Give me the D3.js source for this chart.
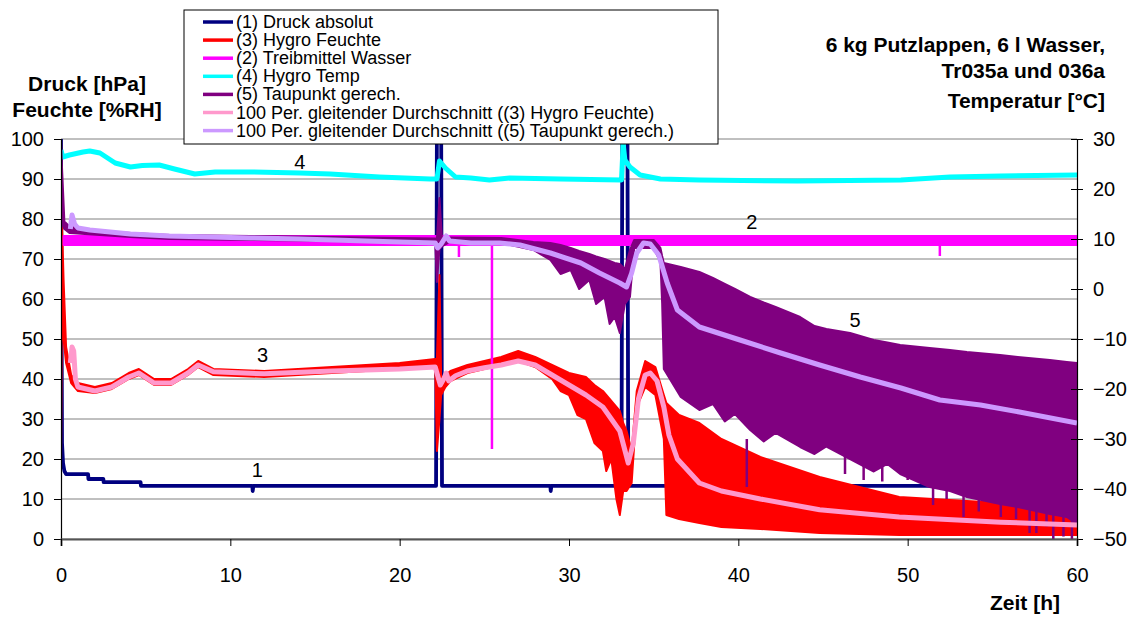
<!DOCTYPE html>
<html>
<head>
<meta charset="utf-8">
<script src="https://cdn.jsdelivr.net/npm/d3@7"></script>
<style>
body{margin:0;background:#fff;}
text{font-family:"Liberation Sans",Arial,sans-serif;fill:#000;}
</style>
</head>
<body>
<div id="chart"></div>
<script>

// (1) Druck absolut [hPa], left axis
var druckT = [0, 0.03, 0.06, 0.12, 0.2, 0.3, 1.6, 1.62, 2.5, 2.52, 4.7, 4.72, 11.3, 11.32, 11.36, 22.15, 22.2, 22.45, 22.5, 28.9, 28.92, 28.96, 33.1, 33.15, 33.45, 33.5, 60]
var druckV = [100, 60, 24, 19, 17, 16.2, 16.2, 15, 15, 14.2, 14.2, 13.3, 13.3, 12, 13.3, 13.3, 105, 105, 13.3, 13.3, 12, 13.3, 13.3, 105, 105, 13.3, 13.3]

// (3) Hygro Feuchte [%RH], left axis - upper / lower edge of the noisy trace
var feuchteT  = [0, 0.05, 0.15, 0.3, 0.6, 1, 2, 3, 4, 4.6, 5.5, 6.5, 7.5, 8.1, 9, 12, 16, 20, 22.1, 22.2, 22.35, 22.45, 22.7, 23, 24, 25, 26, 27, 28, 29, 29.5, 30, 30.5, 31, 31.5, 32, 32.2, 32.5, 32.8, 33, 33.2, 33.4, 33.7, 34, 34.5, 35.1, 35.6, 35.75, 36.5, 37.7, 39, 41.3, 44.8, 49.5, 55.5, 60]
var feuchteHi = [17, 80, 65, 48, 41, 39, 38, 39, 41.5, 42.5, 40, 40, 42.5, 44.5, 42.5, 42, 43, 44, 45, 45, 66, 40, 41, 42, 43.5, 44.5, 45.5, 47, 45.5, 43.5, 42.5, 41.5, 41, 40.5, 38.5, 37, 36, 34.5, 33, 32, 29, 27, 22, 37, 44.5, 43, 36, 34, 31, 29, 25, 20.5, 15.5, 10.5, 9, 8]
var feuchteLo = [17, 60, 50, 44, 39, 37, 36.5, 37.5, 40, 41, 38.5, 38.5, 41, 43, 41, 40.5, 41.5, 42.5, 43, 22, 30, 36, 38, 39.5, 41.5, 42.5, 43.5, 44.5, 43, 40, 37, 36, 31, 30, 24, 22, 17, 20, 10, 6, 12, 12, 14, 33, 38, 36, 25, 6, 5, 4, 3, 2.5, 1.5, 1, 1, 1]

// (2) Treibmittel Wasser [°C], right axis
var wasserT  = [0.15, 60]
var wasserHi = [10.6, 10.6]
var wasserLo = [8.8, 8.8]
var wasserSpikeT = [23.5, 25.45, 51.9]
var wasserSpikeV = [6.4, -32, 6.6]

// (4) Hygro Temp [°C], right axis
var tempT = [0, 0.1, 0.5, 1.3, 1.7, 2.3, 3.2, 4.1, 4.8, 5.8, 6.7, 7.9, 9.1, 11.2, 14.1, 15.9, 18.8, 21.8, 22.2, 22.35, 22.7, 23.3, 24.2, 25.3, 26.5, 29.5, 33.1, 33.2, 33.3, 33.6, 34.2, 35.4, 37.7, 43.5, 49.6, 52.5, 55.5, 60]
var tempV = [27.8, 26.4, 26.8, 27.4, 27.6, 27.2, 25.2, 24.4, 24.7, 24.8, 24, 23, 23.4, 23.4, 23.2, 23, 22.4, 22, 22, 25.6, 24.2, 22.4, 22.2, 21.8, 22.2, 22, 21.8, 29, 25.8, 24.4, 22.8, 22, 21.8, 21.6, 21.8, 22.4, 22.6, 22.8]

// (5) Taupunkt gerech. [°C], right axis - upper / lower edge
var taupunktT  = [0, 0.05, 0.2, 0.5, 2.3, 4.1, 6.4, 11.2, 14, 20, 22.1, 22.2, 22.35, 22.5, 23, 26, 27.9, 28.9, 29.5, 30.1, 30.6, 31.2, 31.6, 32.1, 32.4, 32.7, 33, 33.3, 33.6, 33.85, 35, 35.4, 35.5, 35.6, 36.6, 37.7, 38.5, 39.2, 39.8, 40.7, 41.5, 42.2, 43.65, 44.5, 45.2, 46.6, 48, 48.8, 49.56, 51.3, 52.5, 53.5, 55.46, 56.5, 58.4, 59.4, 60]
var taupunktHi = [30, 25, 13.5, 12.5, 11.6, 11.2, 10.8, 10.6, 10.5, 10.2, 10.1, 10, 18.2, 10, 10.3, 10.2, 9.4, 9.2, 8.8, 8.2, 7.6, 7, 6.5, 6, 5.6, 5.2, 5, 4, 7.8, 9.8, 9.8, 8.2, 6.6, 5.2, 4.4, 3.4, 2.2, 1, 0, -1.6, -2.7, -3.6, -5.6, -7.4, -8, -8.8, -10.2, -10.7, -11.2, -11.8, -12.2, -12.6, -13.2, -13.6, -14.2, -14.6, -14.8]
var taupunktLo = [14, 13, 12, 11.2, 10.8, 10.4, 10, 9.8, 9.7, 9.4, 9.3, 1.4, 8, 8.5, 9.5, 9.2, 7.8, 5.8, 3, 3.8, 0, 1.8, -3, -1.6, -7, -5.6, -8.8, -3, -1.6, 8.2, 8.2, 5.4, -2.8, -16, -21.6, -24.2, -23, -26.5, -25, -28.2, -30.5, -28.8, -31.6, -33, -31.5, -34, -36.5, -35, -37, -39.6, -40.4, -41.6, -43, -43.6, -45, -45.6, -47]
var taupunktSpikeT = [40.5, 46.3, 47.4, 48.5, 50, 51.5, 52.3, 53.3, 54.2, 55.5, 56.4, 57.2, 57.6, 58.2, 58.6, 59.2, 59.7]
var taupunktSpikeV = [-39.6, -37, -38.2, -38.5, -38.2, -43.2, -42, -45.6, -44.5, -45.6, -46, -48.8, -48.8, -47.5, -50, -49.5, -50]

// 100 Per. gleitender Durchschnitt (3) Hygro Feuchte, left axis
var feuchteMaT = [0.55, 0.65, 0.75, 0.85, 1, 2, 3, 4, 4.6, 5.5, 6.5, 7.5, 8.1, 9, 12, 16, 20, 22.1, 22.4, 22.6, 22.75, 22.9, 23.3, 24, 25, 26, 27, 28, 29, 30, 31, 32, 33, 33.5, 33.8, 34.1, 34.5, 34.8, 35.2, 35.6, 35.9, 36.4, 37.7, 39, 41.3, 44.8, 49.5, 55.5, 60]
var feuchteMaV = [44, 48, 47, 40, 38, 37, 38, 40.5, 41.5, 39, 39, 41.5, 43.5, 41.8, 41.3, 42, 42.5, 43, 38.5, 40, 41.5, 39.5, 40.8, 42, 42.8, 43.5, 44.5, 43.5, 41, 38.5, 36, 33, 27, 19, 24, 35, 41, 41.5, 39.5, 33, 26, 20, 14, 12, 10, 7.3, 5.5, 4.2, 3.5]

// 100 Per. gleitender Durchschnitt (5) Taupunkt gerech., right axis
var taupunktMaT = [0.55, 0.65, 0.8, 1, 1.7, 4.1, 6.4, 11.2, 14.1, 20, 22.1, 22.25, 22.45, 22.75, 22.95, 24.2, 25.9, 27.1, 28.9, 30.7, 31.8, 33, 33.4, 33.7, 34, 34.4, 34.8, 35.3, 35.8, 36.4, 37.7, 40.1, 42.5, 44.8, 47.2, 49.6, 51.9, 54.3, 56.6, 60]
var taupunktMaV = [12, 14.8, 13, 12.2, 11.8, 11, 10.6, 10.2, 10, 9.4, 9.2, 8.2, 9, 10.6, 9.6, 9.2, 9.2, 8.8, 7.2, 5.2, 3.2, 1.2, 0.4, 3.2, 7.2, 9.2, 9, 6.8, 1.2, -4.2, -7.6, -10.2, -12.8, -15.2, -17.6, -19.8, -22.2, -23.2, -24.6, -26.8]

// curve number labels (left axis units)
var labelText = ["1", "2", "3", "4", "5"]
var labelT = [11.6, 40.8, 11.9, 14.1, 46.9]
var labelV = [17.2, 79.2, 46, 94.2, 54.7]

var xTicks = [0, 10, 20, 30, 40, 50, 60]
var leftTicks = [0, 10, 20, 30, 40, 50, 60, 70, 80, 90, 100]
var rightTicks = [-50, -40, -30, -20, -10, 0, 10, 20, 30]

var legendNames = ["(1) Druck absolut", "(3) Hygro Feuchte", "(2) Treibmittel Wasser", "(4) Hygro Temp", "(5) Taupunkt gerech.", "100 Per. gleitender Durchschnitt ((3) Hygro Feuchte)", "100 Per. gleitender Durchschnitt ((5) Taupunkt gerech.)"]
var legendColors = ["#000080", "#ff0000", "#ff00ff", "#00ffff", "#800080", "#ff99cc", "#cc99ff"]


var width = 1131, height = 618
var pL = 61, pR = 1077, pT = 139, pB = 539

var svg = d3.select("#chart").append("svg").attr("width", width).attr("height", height)

var x = d3.scaleLinear().domain([0, 60]).range([pL, pR])
var yL = d3.scaleLinear().domain([0, 100]).range([pB, pT])
var yR = d3.scaleLinear().domain([-50, 30]).range([pB, pT])

svg.append("clipPath").attr("id", "plotclip").append("rect")
    .attr("x", pL).attr("y", pT).attr("width", pR - pL).attr("height", pB - pT)

// grid
svg.append("g").selectAll("line").data(leftTicks).enter().append("line")
    .attr("x1", pL).attr("x2", pR)
    .attr("y1", function(d) { return yL(d) }).attr("y2", function(d) { return yL(d) })
    .attr("stroke", "#808080").attr("stroke-width", 1)

var plot = svg.append("g").attr("clip-path", "url(#plotclip)")

function zip(t, a, b) {
    return t.map(function(d, i) { return {t: d, a: a[i], b: b ? b[i] : null} })
}

function drawLine(t, v, y, color, w) {
    plot.append("path").datum(zip(t, v))
        .attr("fill", "none").attr("stroke", color).attr("stroke-width", w)
        .attr("stroke-linejoin", "round")
        .attr("d", d3.line().x(function(d) { return x(d.t) }).y(function(d) { return y(d.a) }))
}

function drawBand(t, hi, lo, y, color) {
    plot.append("path").datum(zip(t, hi, lo))
        .attr("fill", color).attr("stroke", color).attr("stroke-width", 2)
        .attr("stroke-linejoin", "round")
        .attr("d", d3.area().x(function(d) { return x(d.t) })
            .y0(function(d) { return y(d.b) }).y1(function(d) { return y(d.a) }))
}

function drawSpikes(t, v, from, y, color, w) {
    plot.append("g").selectAll("line").data(zip(t, v)).enter().append("line")
        .attr("x1", function(d) { return x(d.t) }).attr("x2", function(d) { return x(d.t) })
        .attr("y1", y(from)).attr("y2", function(d) { return y(d.a) })
        .attr("stroke", color).attr("stroke-width", w)
}

drawLine(druckT, druckV, yL, "#000080", 3.8)
drawBand(feuchteT, feuchteHi, feuchteLo, yL, "#ff0000")
drawBand(wasserT, wasserHi, wasserLo, yR, "#ff00ff")
drawSpikes(wasserSpikeT, wasserSpikeV, 9.7, yR, "#ff00ff", 2.5)
drawLine(tempT, tempV, yR, "#00ffff", 5)
drawBand(taupunktT, taupunktHi, taupunktLo, yR, "#800080")
drawSpikes(taupunktSpikeT, taupunktSpikeV, -30, yR, "#800080", 2.5)
drawLine(feuchteMaT, feuchteMaV, yL, "#ff99cc", 5)
drawLine(taupunktMaT, taupunktMaV, yR, "#cc99ff", 5)

// curve numbers
svg.append("g").selectAll("text").data(labelText).enter().append("text")
    .attr("x", function(d, i) { return x(labelT[i]) })
    .attr("y", function(d, i) { return yL(labelV[i]) })
    .attr("text-anchor", "middle").attr("dominant-baseline", "central")
    .style("font-size", "20px")
    .text(function(d) { return d })

// axes
var axL = svg.append("g").attr("transform", "translate(" + pL + ",0)")
    .call(d3.axisLeft(yL).tickValues(leftTicks).tickSize(7).tickPadding(10))
var axR = svg.append("g").attr("transform", "translate(" + pR + ",0)")
    .call(d3.axisRight(yR).tickValues(rightTicks).tickSize(6).tickPadding(10))
axR.selectAll(".tick line").attr("x1", -6)
var axB = svg.append("g").attr("transform", "translate(0," + pB + ")")
    .call(d3.axisBottom(x).tickValues(xTicks).tickSize(7).tickPadding(22))

svg.selectAll(".domain").attr("stroke", "#000").attr("stroke-width", 1.2)
axB.select(".domain").attr("stroke", "#555").attr("stroke-width", 2)
svg.selectAll(".tick line").attr("stroke", "#000")
svg.selectAll(".tick text").style("font-size", "20px").style("font-family", "Liberation Sans, Arial, sans-serif").attr("fill", "#000")

// titles
function title(txt, xx, yy, anchor) {
    svg.append("text").attr("x", xx).attr("y", yy).attr("text-anchor", anchor)
        .style("font-size", "21px").style("font-weight", "bold").text(txt)
}
title("Druck [hPa]", 87, 91, "middle")
title("Feuchte [%RH]", 87, 117, "middle")
title("6 kg Putzlappen, 6 l Wasser,", 1105, 52, "end")
title("Tr035a und 036a", 1105, 78, "end")
title("Temperatur [°C]", 1105, 108, "end")
title("Zeit [h]", 1060, 610, "end")

// legend
var leg = svg.append("g")
leg.append("rect").attr("x", 184).attr("y", 10).attr("width", 534).attr("height", 134)
    .attr("fill", "#fff").attr("stroke", "#000").attr("stroke-width", 1)
var rows = leg.selectAll("g").data(legendNames).enter().append("g")
    .attr("transform", function(d, i) { return "translate(0," + (22 + i * 18.1) + ")" })
rows.append("line").attr("x1", 203).attr("x2", 233).attr("y1", 0).attr("y2", 0)
    .attr("stroke", function(d, i) { return legendColors[i] }).attr("stroke-width", 3.5)
rows.append("text").attr("x", 236).attr("y", 0).attr("dominant-baseline", "central")
    .style("font-size", "18px").text(function(d) { return d })

</script>
</body>
</html>
